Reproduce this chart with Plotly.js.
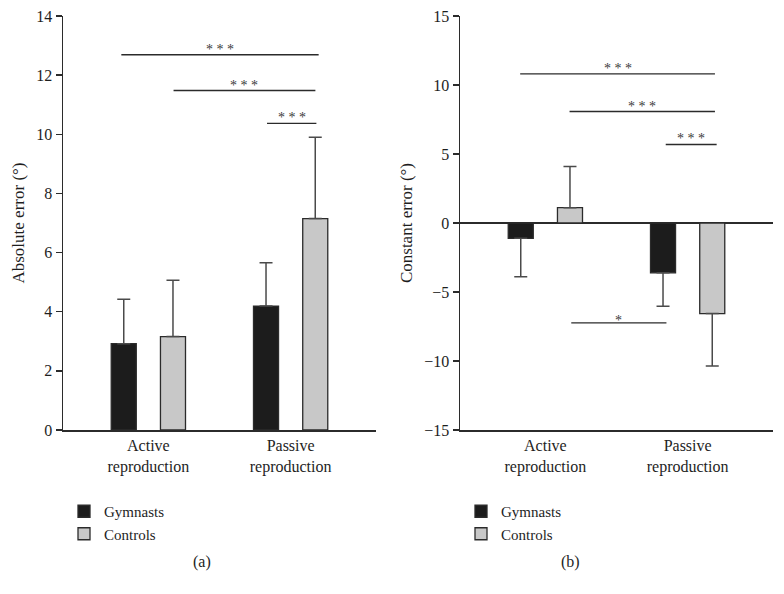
<!DOCTYPE html>
<html>
<head>
<meta charset="utf-8">
<script src="https://cdn.plot.ly/plotly-3.0.1.min.js"></script>
<style>html,body{margin:0;padding:0;background:#fff;}#chart{width:784px;height:594px;}</style>
</head>
<body>
<div id="chart"></div>
<script>
// ---- Data ----
const categories = ['Active<br>reproduction', 'Passive<br>reproduction'];
const seriesNames = ['Gymnasts', 'Controls'];

// (a) Absolute error (degrees)
const absGymnastsMean = [2.92, 4.19];
const absGymnastsSD   = [1.50, 1.47];
const absControlsMean = [3.16, 7.15];
const absControlsSD   = [1.90, 2.75];

// (b) Constant error (degrees)
const constGymnastsMean = [-1.11, -3.61];
const constGymnastsSD   = [2.79, 2.42];
const constControlsMean = [1.11, -6.56];
const constControlsSD   = [2.98, 3.80];

// significance brackets: [x from, x to, y, label]
const sigA_x0 = [-0.19, 0.177, 0.834];
const sigA_x1 = [1.197, 1.174, 1.181];
const sigA_y  = [12.69, 11.48, 10.37];
const sigA_label = ['* * *', '* * *', '* * *'];

const sigB_x0 = [-0.177, 0.170, 0.846, 0.182];
const sigB_x1 = [1.192, 1.192, 1.204, 0.851];
const sigB_y  = [10.80, 8.08, 5.69, -7.24];
const sigB_label = ['* * *', '* * *', '* * *', '*'];

const yTicksA = [0, 2, 4, 6, 8, 10, 12, 14];
const yTicksB = [-15, -10, -5, 0, 5, 10, 15];

// ---- Styles ----
const FONT = 'Liberation Serif, Times New Roman, serif';
const TXT = '#1e1e1e';
const colGym = '#1c1c1c';
const colCtl = '#c8c8c8';
const lineCol = '#2b2b2b';
const errCol = '#4a4a4a';
const barW = 0.176;
const offs = [-0.261, 0.085];

function errUp(mean, sd){ return mean.map((m,i)=> m >= 0 ? sd[i] : 0); }
function errDown(mean, sd){ return mean.map((m,i)=> m < 0 ? sd[i] : 0); }

function barTrace(mean, sd, name, color, idx, xa, ya, legend){
  return {
    type: 'bar', x: categories, y: mean, name: name,
    xaxis: xa, yaxis: ya, legend: legend,
    width: barW, offset: offs[idx],
    marker: {color: color, line: {color: lineCol, width: 1.3}},
    error_y: {type: 'data', symmetric: false, array: errUp(mean, sd), arrayminus: errDown(mean, sd),
              color: errCol, thickness: 1.5, width: 6.5},
    hoverinfo: 'skip'
  };
}

const traces = [
  barTrace(absGymnastsMean, absGymnastsSD, seriesNames[0], colGym, 0, 'x', 'y', 'legend'),
  barTrace(absControlsMean, absControlsSD, seriesNames[1], colCtl, 1, 'x', 'y', 'legend'),
  barTrace(constGymnastsMean, constGymnastsSD, seriesNames[0], colGym, 0, 'x2', 'y2', 'legend2'),
  barTrace(constControlsMean, constControlsSD, seriesNames[1], colCtl, 1, 'x2', 'y2', 'legend2')
];

const shapes = [];
const annotations = [];
function addSig(x0s, x1s, ys, labels, xr, yr){
  ys.forEach((y, i) => {
    shapes.push({type: 'line', xref: xr, yref: yr, x0: x0s[i], x1: x1s[i], y0: y, y1: y,
                 line: {color: lineCol, width: 1.3}});
    annotations.push({xref: xr, yref: yr, x: (x0s[i] + x1s[i]) / 2, y: y, text: labels[i],
                      showarrow: false, yanchor: 'bottom', yshift: labels[i] === '*' ? -7 : -4,
                      font: {family: FONT, size: 14, color: '#3a3a3a'}});
  });
}
addSig(sigA_x0, sigA_x1, sigA_y, sigA_label, 'x', 'y');
addSig(sigB_x0, sigB_x1, sigB_y, sigB_label, 'x2', 'y2');

annotations.push({xref: 'paper', yref: 'paper', x: 191/784, y: -0.318, yanchor: 'middle', text: '(a)', showarrow: false,
                  font: {family: FONT, size: 16, color: TXT}});
annotations.push({xref: 'paper', yref: 'paper', x: 582/784, y: -0.318, yanchor: 'middle', text: '(b)', showarrow: false,
                  font: {family: FONT, size: 16, color: TXT}});

const tickFont = {family: FONT, size: 16, color: TXT};
const catFont = {family: FONT, size: 16, color: TXT};
const xCommon = {
  type: 'category', range: [-0.6, 1.6], showline: true, linecolor: lineCol, linewidth: 1.5,
  ticks: '', showgrid: false, zeroline: false, tickfont: catFont, fixedrange: true
};
const yCommon = {
  showline: true, linecolor: lineCol, linewidth: 1.5, ticks: 'outside', ticklen: 6,
  tickwidth: 1.5, tickcolor: lineCol, showgrid: false, tickfont: tickFont, fixedrange: true
};

const layout = {
  width: 784, height: 594,
  margin: {l: 0, r: 0, t: 16, b: 164},
  paper_bgcolor: '#fff', plot_bgcolor: 'rgba(0,0,0,0)',
  font: {family: FONT, color: TXT},
  barmode: 'group',
  showlegend: true,
  xaxis: Object.assign({}, xCommon, {domain: [63/784, 376/784], anchor: 'y'}),
  yaxis: Object.assign({}, yCommon, {
    domain: [0, 1], anchor: 'x', range: [0, 14], tickvals: yTicksA, zeroline: false,
    title: {text: 'Absolute error (°)', font: {family: FONT, size: 17, color: TXT}, standoff: 7}
  }),
  xaxis2: Object.assign({}, xCommon, {domain: [460/784, 773/784], anchor: 'y2'}),
  yaxis2: Object.assign({}, yCommon, {
    domain: [0, 1], anchor: 'x2', range: [-15, 15], tickvals: yTicksB,
    zeroline: true, zerolinecolor: lineCol, zerolinewidth: 1.3,
    title: {text: 'Constant error (°)', font: {family: FONT, size: 17, color: TXT}, standoff: 7}
  }),
  legend: {x: 64/784, y: -0.157, xanchor: 'left', yanchor: 'top', bgcolor: 'rgba(0,0,0,0)',
           font: {family: FONT, size: 15, color: TXT}, traceorder: 'normal', tracegroupgap: 0},
  legend2: {x: 461/784, y: -0.157, xanchor: 'left', yanchor: 'top', bgcolor: 'rgba(0,0,0,0)',
            font: {family: FONT, size: 15, color: TXT}, traceorder: 'normal', tracegroupgap: 0},
  shapes: shapes,
  annotations: annotations
};

Plotly.newPlot('chart', traces, layout, {displayModeBar: false, staticPlot: true});
</script>
</body>
</html>
